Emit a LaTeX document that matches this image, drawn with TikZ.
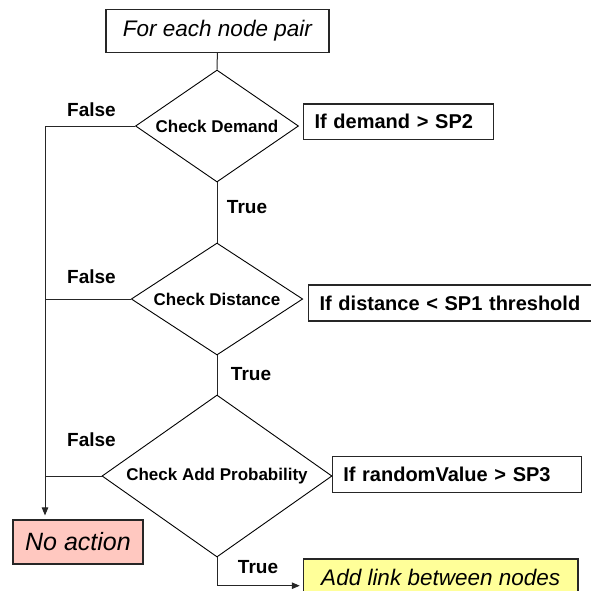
\documentclass[tikz,border=0pt]{standalone}
\usepackage{fontspec}
\setmainfont{Liberation Sans}
\usetikzlibrary{shapes.geometric,arrows.meta}
\definecolor{pinkc}{RGB}{255,200,192}
\definecolor{yellowc}{RGB}{255,255,153}
\begin{document}
\begin{tikzpicture}[x=1pt,y=-1pt,
  line/.style={draw=black!85, line width=1pt},
  box/.style={draw=black!85, line width=1.2pt, fill=white, inner sep=0pt},
  dia/.style={diamond, draw=black, line width=0.9pt, inner sep=0pt, font=\fontsize{17}{17}\selectfont\bfseries},
  cond/.style={box, anchor=west, align=left, inner xsep=11pt, font=\fontsize{20}{20}\selectfont\bfseries},
  lbl/.style={font=\fontsize{19}{19}\selectfont\bfseries, inner sep=0pt},
  term/.style={box, font=\fontsize{22.5}{22.5}\selectfont\itshape},
  tip/.style={-{Triangle[length=8pt,width=6.5pt]}}
]
\useasboundingbox (0,0) rectangle (591,590);
\clip (0,0) rectangle (591,590);

\node[term, minimum width=223pt, minimum height=43pt] (start) at (217.4,30.8) {For each node pair};

\node[dia, minimum width=163pt, minimum height=112pt] (d1) at (217,126) {\makebox[0pt]{Check Demand}};
\node[cond, text width=167.7pt, minimum height=35.3pt] (c1) at (303,121.7) {If demand > SP2};

\node[dia, minimum width=171.5pt, minimum height=112pt] (d2) at (217,299) {\makebox[0pt]{Check Distance}};
\node[cond, text width=280pt, minimum height=36pt] (c2) at (308,303) {If distance < SP1 threshold};

\node[dia, minimum width=230pt, minimum height=162pt] (d3) at (217,476) {\makebox[0pt]{Check Add Probability}};
\node[cond, text width=227pt, minimum height=36pt] (c3) at (331.7,474.5) {If randomValue > SP3};

\node[term, fill=pinkc, minimum width=130pt, minimum height=44pt, font=\fontsize{25}{25}\selectfont\itshape] (no) at (78,542) {No action};
\node[term, fill=yellowc, minimum width=274.7pt, minimum height=36pt] (add) at (440.7,577) {Add link between nodes};

\coordinate (L) at (45,126);
\coordinate (B) at (217,585.7);

\draw[line] (start.south) -- (d1.north);
\draw[line] (d1.south) -- (d2.north);
\draw[line] (d2.south) -- (d3.north);
\draw[line] (d1.west) -- (L);
\draw[line] (d2.west) -- (d2.west -| L);
\draw[line] (d3.west) -- (d3.west -| L);
\draw[line, tip, shorten >=4pt] (L) -- (L |- no.north);
\draw[line, tip, shorten >=3pt] (d3.south) -- (B) -- (B -| add.west);

\node[lbl] (f1) at (91.5,110) {False};
\node[lbl] (f2) at (91.5,277) {False};
\node[lbl] (f3) at (91.5,440) {False};
\node[lbl] (t1) at (247,207) {True};
\node[lbl] (t2) at (251,374) {True};
\node[lbl] (t3) at (258,567) {True};
\end{tikzpicture}
\end{document}
